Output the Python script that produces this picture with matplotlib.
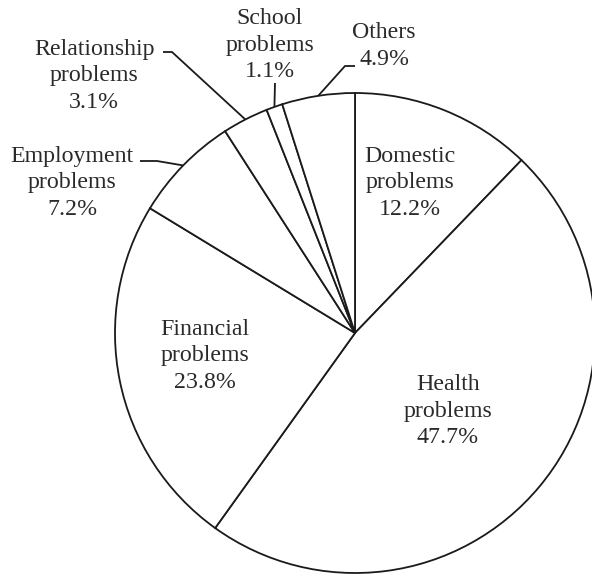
import numpy as np
import matplotlib
matplotlib.use("Agg")
import matplotlib.pyplot as plt

categories = ["Domestic\nproblems", "Health\nproblems", "Financial\nproblems",
              "Employment\nproblems", "Relationship\nproblems", "School\nproblems",
              "Others"]
shares = [12.2, 47.7, 23.8, 7.2, 3.1, 1.1, 4.9]

# image pixel layout of the original: pie centre and radius
CX, CY, R = 355.0, 333.0, 240.0

def px(x, y):
    # pixel position -> data units (pie radius = 1)
    return (x - CX) / R, (CY - y) / R

# label centres (pixels) and leader elbows for the outside labels
label_pos = [(410, 183), (448, 411), (205, 356), (72, 183), (94, 76), (270, 45), (384, 46)]
leaders = {
    3: [(140, 161), (157, 161)],
    4: [(163, 52), (172, 52)],
    5: [(275, 83)],
    6: [(355, 66), (345, 66)],
}

plt.rcParams['font.family'] = ['Liberation Serif', 'DejaVu Serif']

fig = plt.figure(figsize=(5.92, 5.78), dpi=100)
ax = fig.add_axes([0, 0, 1, 1])

wedges, _ = ax.pie(shares, startangle=90, counterclock=False, radius=1,
                   colors=['white'] * len(shares),
                   wedgeprops=dict(edgecolor='#1a1a1a', linewidth=1.3))

for i, (cat, val) in enumerate(zip(categories, shares)):
    tx, ty = px(*label_pos[i])
    ax.text(tx, ty, f"{cat}\n{val}%", ha='center', va='center', fontsize=17.2,
            color='#2a2a2a', linespacing=1.33)
    if i in leaders:
        w = wedges[i]
        mid = np.deg2rad((w.theta1 + w.theta2) / 2)
        pts = [px(*p) for p in leaders[i]] + [(np.cos(mid), np.sin(mid))]
        xs, ys = zip(*pts)
        ax.plot(xs, ys, color='#1a1a1a', lw=1.3, solid_capstyle='butt')

x0, _ = px(0, 0)
x1, _ = px(592, 0)
_, y0 = px(0, 578)
_, y1 = px(0, 0)
ax.set_xlim(x0, x1)
ax.set_ylim(y0, y1)
ax.set_aspect('equal')
ax.axis('off')

fig.savefig("out.png", dpi=100)
